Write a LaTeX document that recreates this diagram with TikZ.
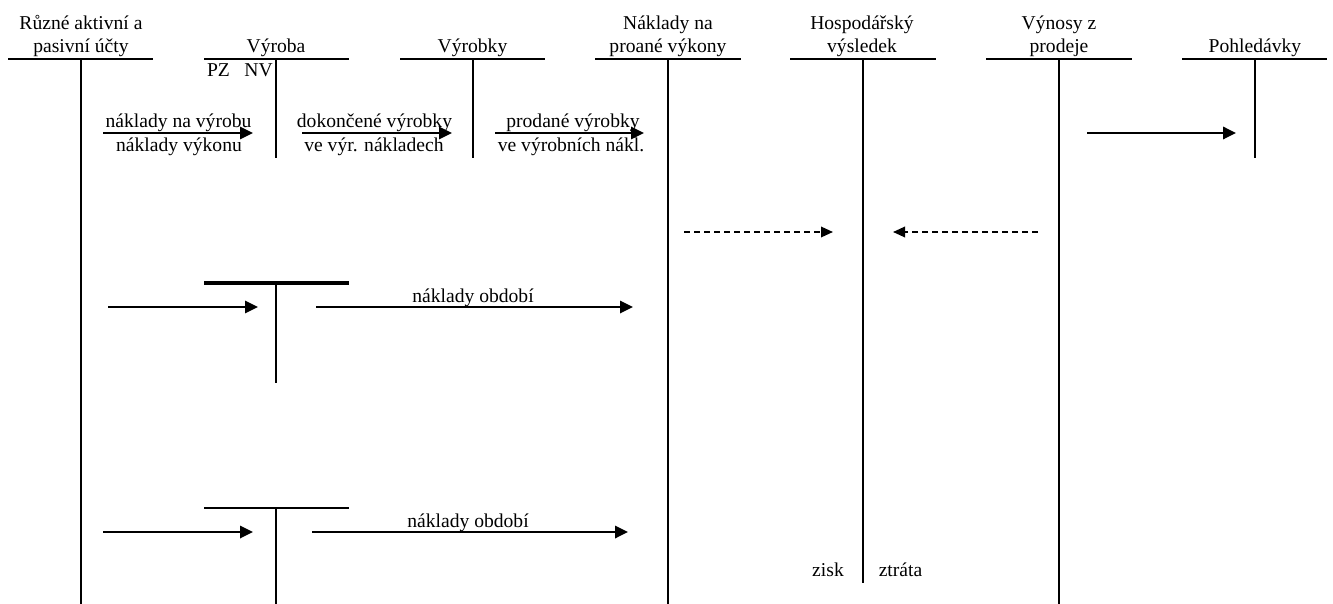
\documentclass[tikz,border=0pt]{standalone}
\usepackage{fontspec}
\setmainfont{Liberation Serif}
\usetikzlibrary{arrows.meta}

\tikzset{
  lbl/.style={anchor=base, inner sep=0pt, font=\fontsize{19.6}{23}\selectfont},
  acct/.style={line width=2.2pt},
  flow/.style={line width=1.8pt, -{Triangle[length=13pt,width=12.5pt]}},
  result/.style={line width=1.8pt, dash pattern=on 6pt off 4pt,
                 -{Triangle[length=12pt,width=10.5pt]}},
}

\begin{document}
\begin{tikzpicture}[x=1pt, y=-1pt]
  \useasboundingbox (0,0) rectangle (1333,604);

  % Account ends
  \coordinate (ucty-w)    at (8,59);    \coordinate (ucty-e)    at (153,59);
  \coordinate (ucty-n)    at (80.5,59); \coordinate (ucty-s)    at (80.5,604);
  \coordinate (vyroba-w)  at (204,59);  \coordinate (vyroba-e)  at (349,59);
  \coordinate (vyroba-n)  at (276,59);  \coordinate (vyroba-s)  at (276,158);
  \coordinate (vyrobky-w) at (400,59);  \coordinate (vyrobky-e) at (545,59);
  \coordinate (vyrobky-n) at (472.5,59);\coordinate (vyrobky-s) at (472.5,158);
  \coordinate (naklady-w) at (595,59);  \coordinate (naklady-e) at (741,59);
  \coordinate (naklady-n) at (668,59);  \coordinate (naklady-s) at (668,604);
  \coordinate (hv-w)      at (790,59);  \coordinate (hv-e)      at (936,59);
  \coordinate (hv-n)      at (863,59);  \coordinate (hv-s)      at (863,583);
  \coordinate (vynosy-w)  at (986,59);  \coordinate (vynosy-e)  at (1132,59);
  \coordinate (vynosy-n)  at (1059,59); \coordinate (vynosy-s)  at (1059,604);
  \coordinate (pohl-w)    at (1182,59); \coordinate (pohl-e)    at (1327,59);
  \coordinate (pohl-n)    at (1255,59); \coordinate (pohl-s)    at (1255,158);

  \coordinate (obd1-w) at (204,283); \coordinate (obd1-e) at (349,283);
  \coordinate (obd1-n) at (276,283); \coordinate (obd1-s) at (276,383);
  \coordinate (obd2-w) at (204,508); \coordinate (obd2-e) at (349,508);
  \coordinate (obd2-n) at (276,508); \coordinate (obd2-s) at (276,604);

  % Account titles
  \node[lbl] (ucty-t1)    at (81,30)     {Různé aktivní a};
  \node[lbl] (ucty-t2)    at (81,53)     {pasivní účty};
  \node[lbl] (vyroba-t)   at (276,53)    {Výroba};
  \node[lbl] (vyrobky-t)  at (472.5,53)  {Výrobky};
  \node[lbl] (naklady-t1) at (668,30)    {Náklady na};
  \node[lbl] (naklady-t2) at (668,53)    {proané výkony};
  \node[lbl] (hv-t1)      at (862,30)    {Hospodářský};
  \node[lbl] (hv-t2)      at (862,53)    {výsledek};
  \node[lbl] (vynosy-t1)  at (1059,30)   {Výnosy z};
  \node[lbl] (vynosy-t2)  at (1059,53)   {prodeje};
  \node[lbl] (pohl-t)     at (1255,53)   {Pohledávky};

  \node[lbl] (pz) at (218.5,77) {PZ};
  \node[lbl] (nv) at (258.5,77) {NV};
  \node[lbl] (zisk)   at (828,576)   {zisk};
  \node[lbl] (ztrata) at (900.5,576) {ztráta};

  % Accounts
  \foreach \a in {ucty,vyroba,vyrobky,naklady,hv,vynosy,pohl,obd2} {
    \draw[acct] (\a-w) -- (\a-e);
    \draw[line width=2pt] (\a-n) -- (\a-s);
  }
  \draw[line width=3.2pt] (obd1-w) -- (obd1-e);
  \draw[line width=2pt] (obd1-n) -- (obd1-s);

  % Flows
  \coordinate (f1-a) at (103,133);  \coordinate (f1-b) at (253,133);
  \coordinate (f2-a) at (302,133);  \coordinate (f2-b) at (452,133);
  \coordinate (f3-a) at (495,133);  \coordinate (f3-b) at (644,133);
  \coordinate (f4-a) at (1087,133); \coordinate (f4-b) at (1236,133);
  \coordinate (f5-a) at (108,307);  \coordinate (f5-b) at (258,307);
  \coordinate (f6-a) at (316,307);  \coordinate (f6-b) at (633,307);
  \coordinate (f7-a) at (103,532);  \coordinate (f7-b) at (253,532);
  \coordinate (f8-a) at (312,532);  \coordinate (f8-b) at (628,532);
  \coordinate (d1-a) at (684,232);  \coordinate (d1-b) at (833,232);
  \coordinate (d2-a) at (1038,232); \coordinate (d2-b) at (893,232);

  \foreach \f in {f1,f2,f3,f4,f5,f6,f7,f8}
    \draw[flow] (\f-a) -- (\f-b);
  \draw[result] (d1-a) -- (d1-b);
  \draw[result] (d2-a) -- (d2-b);

  % Flow labels
  \node[lbl] (f1-up) at (178.5,128) {náklady na výrobu};
  \node[lbl] (f1-dn) at (179,152)   {náklady výkonu};
  \node[lbl] (f2-up) at (374.5,128) {dokončené výrobky};
  \node[lbl] (f2-dn) at (374,152)   {ve výr. nákladech};
  \node[lbl] (f3-up) at (573,128)   {prodané výrobky};
  \node[lbl] (f3-dn) at (571,152)   {ve výrobních nákl.};
  \node[lbl] (f6-up) at (473,302)   {náklady období};
  \node[lbl] (f8-up) at (468,527)   {náklady období};

\end{tikzpicture}
\end{document}
